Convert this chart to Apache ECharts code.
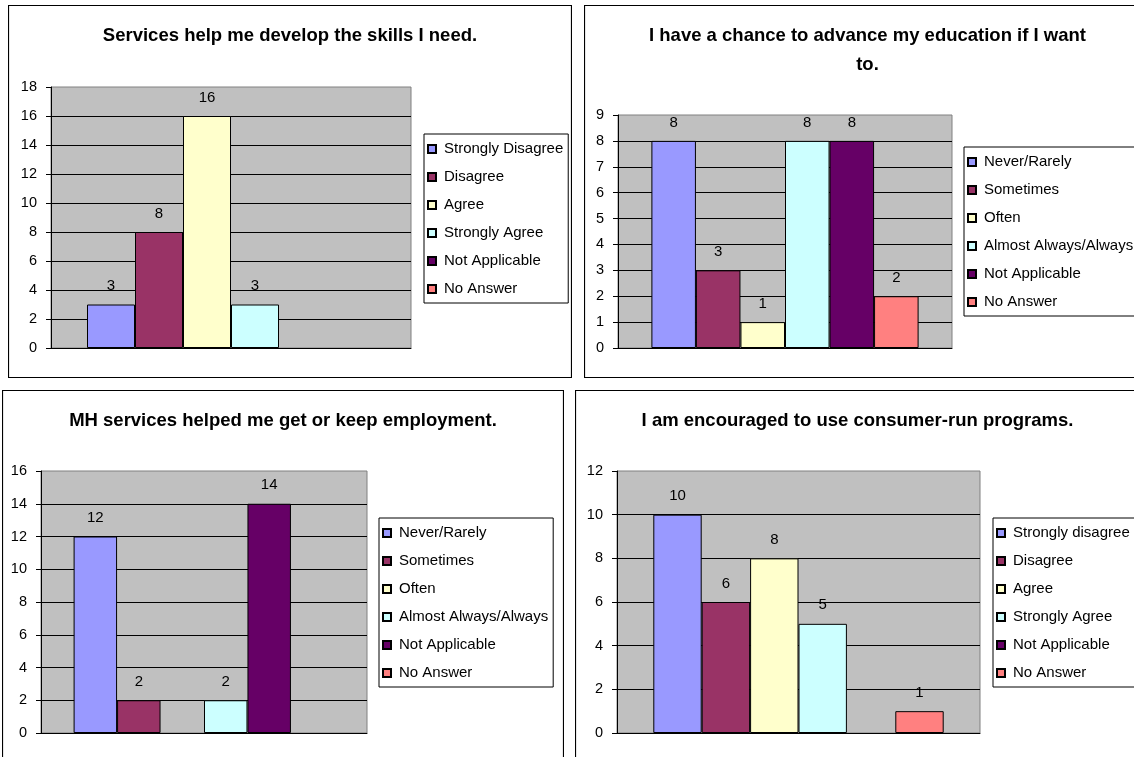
<!DOCTYPE html>
<html>
<head>
<meta charset="utf-8">
<script src="https://cdn.jsdelivr.net/npm/echarts@6/dist/echarts.min.js"></script>
<style>
html,body{margin:0;padding:0;width:1134px;height:757px;overflow:hidden;background:#fff}
.p{position:absolute}
</style>
</head>
<body>
<div id="c1" class="p" style="left:8px;top:5px;width:564px;height:373px"></div>
<div id="c2" class="p" style="left:584px;top:5px;width:567px;height:373px"></div>
<div id="c3" class="p" style="left:2px;top:390px;width:562px;height:380px"></div>
<div id="c4" class="p" style="left:575px;top:390px;width:565px;height:380px"></div>
<script>
// ---- data ----
const categories = [''];
const title1 = 'Services help me develop the skills I need.';
const names1 = ['Strongly Disagree', 'Disagree', 'Agree', 'Strongly Agree', 'Not Applicable', 'No Answer'];
const values1 = [3, 8, 16, 3, null, null];
const yMax1 = 18, yStep1 = 2;

const title2 = 'I have a chance to advance my education if I want\nto.';
const names2 = ['Never/Rarely', 'Sometimes', 'Often', 'Almost Always/Always', 'Not Applicable', 'No Answer'];
const values2 = [8, 3, 1, 8, 8, 2];
const yMax2 = 9, yStep2 = 1;

const title3 = 'MH services helped me get or keep employment.';
const names3 = ['Never/Rarely', 'Sometimes', 'Often', 'Almost Always/Always', 'Not Applicable', 'No Answer'];
const values3 = [12, 2, null, 2, 14, null];
const yMax3 = 16, yStep3 = 2;

const title4 = 'I am encouraged to use consumer-run programs.';
const names4 = ['Strongly disagree', 'Disagree', 'Agree', 'Strongly Agree', 'Not Applicable', 'No Answer'];
const values4 = [10, 6, 8, 5, null, 1];
const yMax4 = 12, yStep4 = 2;

// ---- style ----
const colors = ['#9999FF', '#993366', '#FFFFCC', '#CCFFFF', '#660066', '#FF8080'];
const FONT = '"Liberation Sans", Arial, sans-serif';

function build(id, w, h, title, names, values, yMax, yStep, grid, leg) {
  const chart = echarts.init(document.getElementById(id), null, {renderer: 'canvas'});
  const series = names.map((n, i) => ({
    type: 'bar',
    name: n,
    data: [values[i]],
    barGap: '0%',
    barCategoryGap: '20%',
    itemStyle: {color: colors[i], borderColor: '#000', borderWidth: 1},
    label: {show: true, position: 'top', distance: 11, fontSize: 15, color: '#000', fontFamily: FONT},
    emphasis: {disabled: true}
  }));
  chart.setOption({
    animation: false,
    title: {
      text: title, left: 'center', top: 11,
      textStyle: {fontSize: 18.5, fontWeight: 'bold', color: '#000', lineHeight: 29, fontFamily: FONT}
    },
    graphic: [{
      type: 'rect', silent: true, z: 100,
      shape: {x: 0.5, y: 0.5, width: w - 1, height: h - 1},
      style: {fill: 'none', stroke: '#000', lineWidth: 1.2}
    }],
    legend: {
      orient: 'vertical',
      left: leg.left, top: leg.top,
      data: names,
      icon: 'rect',
      itemWidth: 8, itemHeight: 8,
      itemGap: 12,
      padding: [7, 5, 6, 3],
      backgroundColor: '#fff',
      borderColor: '#000', borderWidth: 1,
      selectedMode: false,
      textStyle: {fontSize: 15, color: '#000', fontFamily: FONT, lineHeight: 16, padding: [0, 0, 0, 3]}
    },
    grid: {
      left: grid.left, top: grid.top, width: grid.width, height: grid.height,
      show: true, backgroundColor: '#C0C0C0', borderColor: '#808080', borderWidth: 1,
      containLabel: false
    },
    xAxis: {
      type: 'category', data: categories,
      axisLine: {show: true, lineStyle: {color: '#000', width: 1}},
      axisTick: {show: false},
      axisLabel: {show: false},
      splitLine: {show: false}
    },
    yAxis: {
      type: 'value', min: 0, max: yMax, interval: yStep,
      axisLine: {show: true, lineStyle: {color: '#000', width: 1}},
      axisTick: {show: true, length: 5, lineStyle: {color: '#000'}},
      axisLabel: {fontSize: 14.5, color: '#000', fontFamily: FONT, margin: 14},
      splitLine: {show: true, showMaxLine: false, showMinLine: false, lineStyle: {color: '#000', width: 1}}
    },
    series: series
  });
}

build('c1', 564, 373, title1, names1, values1, yMax1, yStep1,
  {left: 43, top: 82, width: 360, height: 261}, {left: 416, top: 129});
build('c2', 567, 373, title2, names2, values2, yMax2, yStep2,
  {left: 34, top: 110, width: 334, height: 233}, {left: 380, top: 142});
build('c3', 562, 380, title3, names3, values3, yMax3, yStep3,
  {left: 39, top: 81, width: 326, height: 262}, {left: 377, top: 128});
build('c4', 565, 380, title4, names4, values4, yMax4, yStep4,
  {left: 42, top: 81, width: 363, height: 262}, {left: 418, top: 128});
</script>
</body>
</html>
